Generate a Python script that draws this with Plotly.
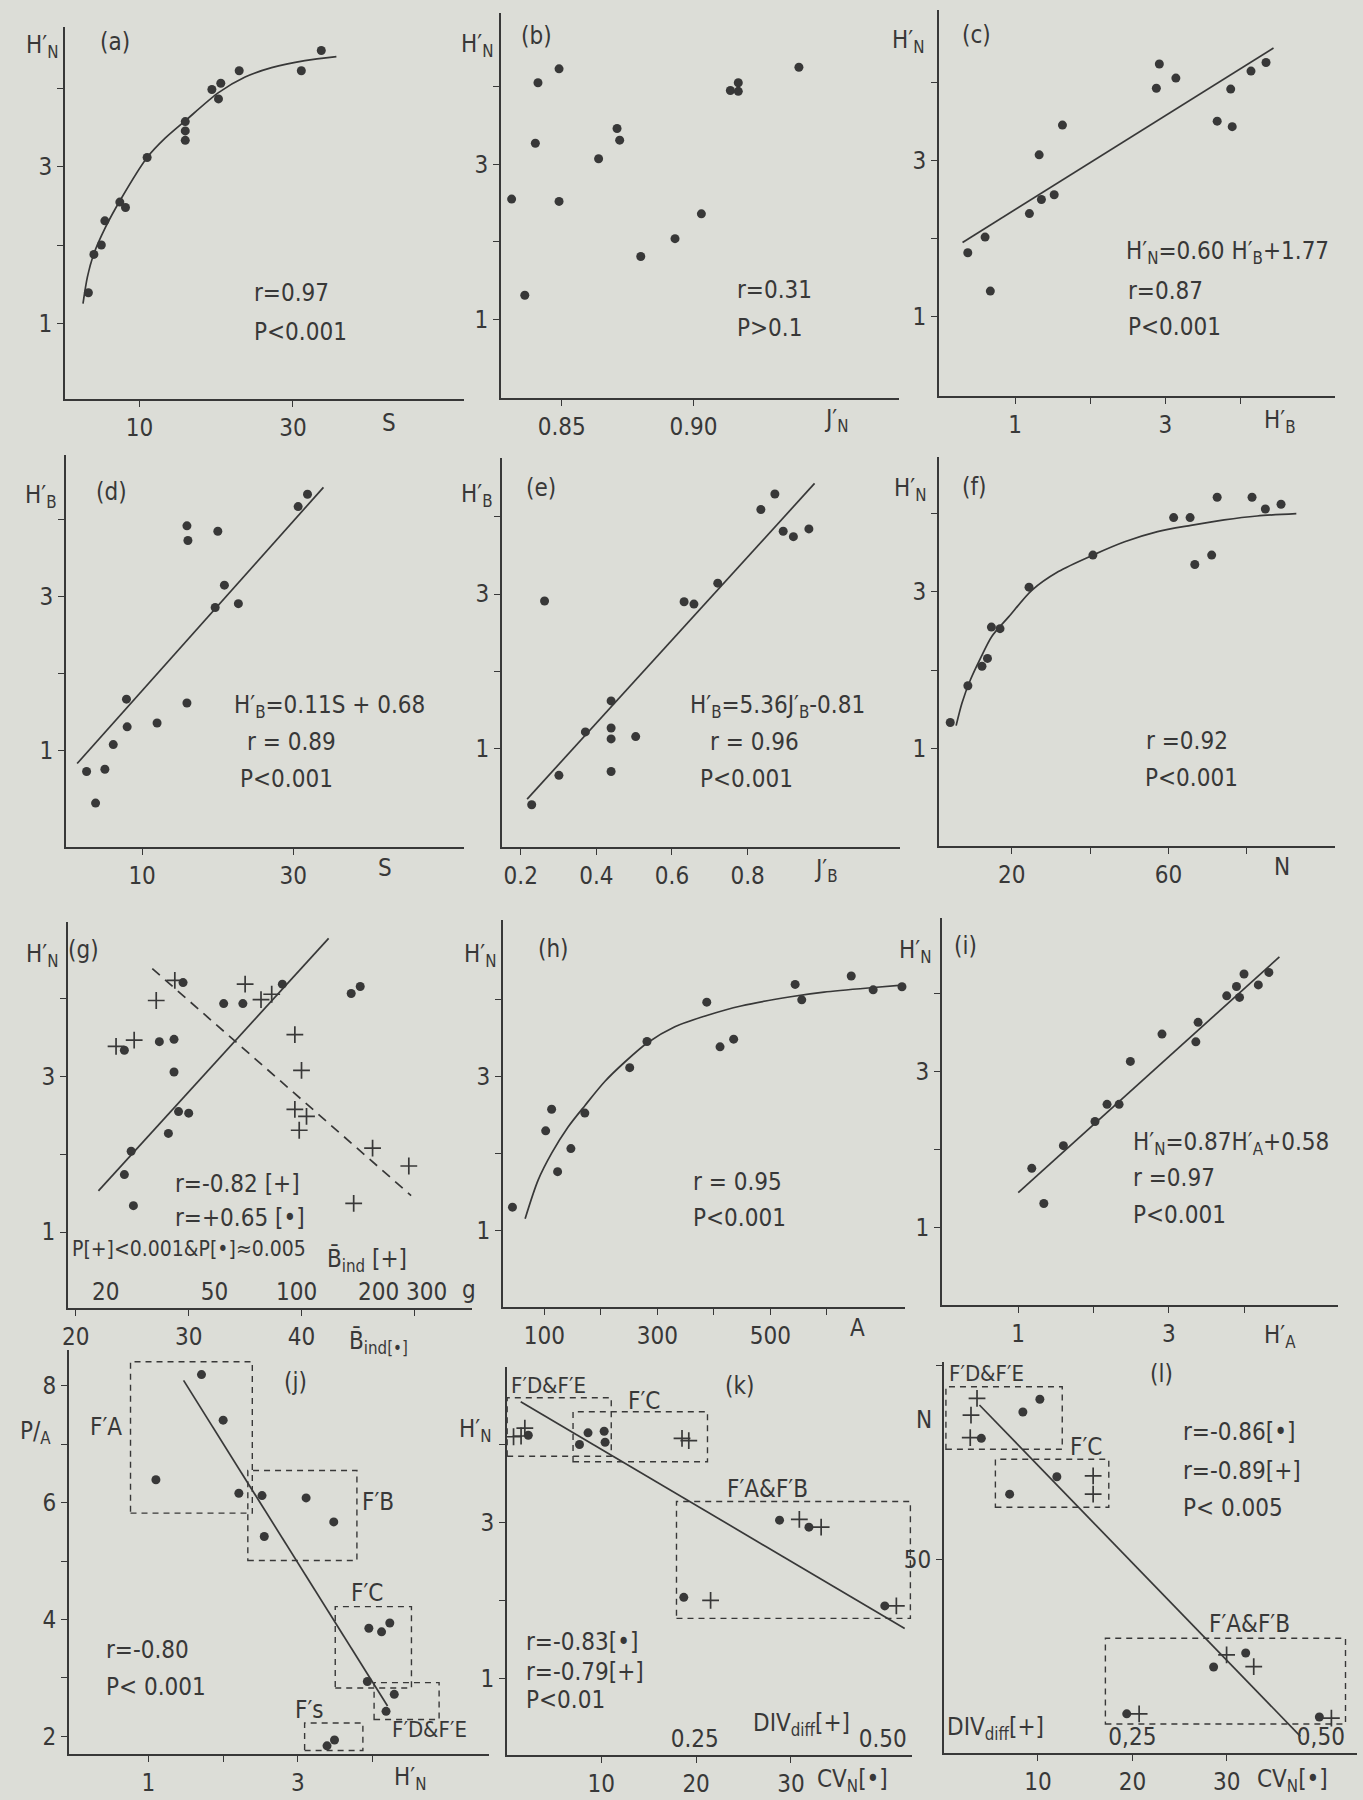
import plotly.graph_objects as go

# ---------------- data ----------------
# (a) H'N against species number S
a_S = [3.34, 4.06, 5.03, 5.49, 7.44, 8.18, 11.0, 15.97, 15.97, 15.97, 19.44, 20.6, 20.3, 23.0, 31.1, 33.7]
a_H = [1.39, 1.88, 2.00, 2.31, 2.55, 2.48, 3.12, 3.58, 3.46, 3.34, 3.99, 4.07, 3.87, 4.23, 4.23, 4.49]
a_curve_S = [2.64, 3.21, 4.06, 5.58, 7.53, 11.0, 13.38, 15.97, 20.3, 23.77, 27.23, 31.56, 35.67]
a_curve_H = [1.25, 1.59, 1.89, 2.23, 2.58, 3.12, 3.37, 3.59, 3.95, 4.15, 4.27, 4.36, 4.41]

# (b) H'N against evenness J'N
b_J = [0.831, 0.836, 0.841, 0.840, 0.849, 0.849, 0.864, 0.871, 0.872, 0.880, 0.893, 0.903, 0.914, 0.917, 0.917, 0.940]
b_H = [2.55, 1.31, 4.05, 3.27, 4.23, 2.52, 3.07, 3.46, 3.31, 1.81, 2.04, 2.36, 3.95, 4.05, 3.94, 4.25]

# (c) H'N against H'B
c_HB = [0.37, 0.60, 0.67, 1.19, 1.35, 1.52, 1.32, 1.63, 2.88, 2.92, 3.14, 3.69, 3.89, 3.87, 4.14, 4.34]
c_HN = [1.82, 2.02, 1.33, 2.32, 2.50, 2.56, 3.07, 3.45, 3.92, 4.23, 4.05, 3.50, 3.43, 3.91, 4.14, 4.25]
c_slope, c_icpt = 0.60, 1.77
c_fit_x = [0.30, 4.44]

# (d) H'B against S
d_S = [2.65, 3.84, 5.07, 6.18, 7.93, 8.02, 11.98, 15.93, 15.93, 16.06, 20.02, 20.89, 19.67, 22.74, 30.65, 31.89]
d_HB = [0.73, 0.32, 0.76, 1.08, 1.67, 1.31, 1.36, 1.62, 3.92, 3.73, 3.85, 3.15, 2.86, 2.91, 4.17, 4.33]
d_slope, d_icpt = 0.11, 0.68
d_fit_x = [1.4, 34.0]

# (e) H'B against J'B
e_J = [0.229, 0.301, 0.263, 0.371, 0.439, 0.439, 0.439, 0.439, 0.504, 0.632, 0.658, 0.721, 0.835, 0.872, 0.894, 0.921, 0.962]
e_HB = [0.28, 0.66, 2.91, 1.22, 1.62, 1.27, 1.13, 0.71, 1.16, 2.90, 2.87, 3.14, 4.09, 4.29, 3.81, 3.74, 3.84]
e_slope, e_icpt = 5.36, -0.81
e_fit_x = [0.217, 0.977]

# (f) H'N against number of individuals N
f_N = [4.3, 8.8, 12.4, 13.8, 14.8, 17.0, 24.4, 40.7, 61.3, 65.5, 66.7, 71.0, 72.4, 81.3, 84.7, 88.7]
f_H = [1.33, 1.80, 2.05, 2.15, 2.55, 2.53, 3.06, 3.47, 3.95, 3.95, 3.35, 3.47, 4.21, 4.21, 4.06, 4.12]
f_curve_N = [5.8, 7.3, 9.4, 12.0, 14.9, 19.2, 25.1, 31.9, 40.7, 48.8, 57.2, 65.7, 74.2, 82.6, 92.6]
f_curve_H = [1.29, 1.58, 1.87, 2.15, 2.43, 2.68, 3.02, 3.26, 3.47, 3.64, 3.77, 3.85, 3.92, 3.97, 4.00]

# (g) H'N against mean individual biomass
g_dot_B = [24.3, 24.9, 24.3, 25.1, 27.4, 28.7, 28.7, 29.5, 28.2, 29.1, 30.0, 33.1, 34.8, 38.3, 44.4, 45.2]
g_dot_H = [3.34, 2.04, 1.74, 1.34, 3.45, 3.48, 3.06, 4.21, 2.27, 2.55, 2.53, 3.94, 3.94, 4.19, 4.07, 4.16]
g_plus_B = [21.8, 25.4, 30.6, 35.8, 64.8, 74.1, 81.1, 98.6, 104.3, 98.6, 108.8, 102.3, 190.0, 258.0, 162.0]
g_plus_H = [3.39, 3.47, 3.98, 4.24, 4.19, 3.99, 4.06, 3.54, 3.08, 2.58, 2.49, 2.31, 2.08, 1.85, 1.37]
g_dot_fit_B = [22.0, 42.4]
g_dot_fit_H = [1.53, 4.78]
g_plus_fit_B = [29.6, 263.0]
g_plus_fit_H = [4.39, 1.47]

# (h) H'N against sampled area A
h_A = [43.6, 102.4, 112.9, 123.5, 147.0, 171.7, 251.1, 281.7, 387.5, 411.0, 435.1, 543.9, 555.6, 643.2, 682.0, 733.0]
h_H = [1.30, 2.29, 2.57, 1.76, 2.06, 2.52, 3.11, 3.45, 3.96, 3.38, 3.48, 4.19, 3.99, 4.30, 4.12, 4.16]
h_curve_A = [66, 89, 113, 142, 172, 207, 242, 282, 331, 389, 448, 536, 595, 683, 733]
h_curve_H = [1.15, 1.65, 2.00, 2.34, 2.62, 2.93, 3.18, 3.43, 3.64, 3.79, 3.91, 4.03, 4.09, 4.15, 4.18]

# (i) H'N against H'A
i_HA = [1.18, 1.34, 1.60, 2.02, 2.18, 2.34, 2.49, 2.91, 3.36, 3.39, 3.77, 3.90, 3.94, 4.00, 4.19, 4.33]
i_HN = [1.76, 1.31, 2.05, 2.36, 2.58, 2.58, 3.13, 3.48, 3.38, 3.63, 3.97, 4.09, 3.95, 4.25, 4.11, 4.27]
i_slope, i_icpt = 0.87, 0.58
i_fit_x = [1.0, 4.47]

# (j) P/A against H'N, grouped by site
j_HN = [1.71, 2.00, 1.10, 2.21, 2.52, 2.55, 3.11, 3.48, 3.95, 4.12, 4.23, 3.93, 4.29, 4.18, 3.39, 3.49]
j_PA = [8.19, 7.41, 6.39, 6.16, 6.12, 5.42, 6.08, 5.67, 3.85, 3.79, 3.94, 2.94, 2.72, 2.43, 1.84, 1.94]
j_fit_HN = [1.47, 4.20]
j_fit_PA = [8.09, 2.52]
j_groups = [(0.76, 2.39, 5.82, 8.41), (2.33, 3.79, 5.01, 6.55), (3.50, 4.52, 2.83, 4.22),
            (4.02, 4.89, 2.29, 2.92), (3.09, 3.87, 1.76, 2.23)]

# (k) H'N against CV_N [dots] and DIV_diff [plus]
k_dot_CV = [2.3, 7.7, 8.6, 10.3, 10.4, 18.7, 28.8, 31.9, 39.9]
k_dot_H = [4.12, 4.00, 4.15, 4.17, 4.03, 2.04, 3.03, 2.94, 1.93]
k_plus_D = [0.009, 0.019, 0.024, 0.233, 0.242, 0.271, 0.389, 0.418, 0.518]
k_plus_H = [4.10, 4.11, 4.21, 4.08, 4.05, 2.00, 3.04, 2.94, 1.93]
k_fit_CV = [1.5, 42.0]
k_fit_H = [4.55, 1.64]
k_groups = [(0.07, 11.05, 3.85, 4.60), (7.02, 21.2, 3.78, 4.42), (17.93, 42.6, 1.77, 3.27)]

# (l) N against CV_N [dots] and DIV_diff [plus]
l_dot_CV = [10.2, 8.4, 4.0, 12.0, 7.0, 28.6, 32.0, 19.4, 39.8]
l_dot_N = [91.3, 88.0, 81.2, 71.3, 66.8, 22.2, 25.8, 10.1, 9.3]
l_plus_D = [0.044, 0.036, 0.035, 0.198, 0.198, 0.375, 0.411, 0.259, 0.514]
l_plus_N = [91.5, 87.2, 81.4, 71.5, 66.8, 25.3, 22.3, 10.1, 9.0]
l_fit_CV = [3.8, 37.8]
l_fit_N = [89.8, 4.3]
l_groups = [(0.25, 12.57, 78.4, 94.5), (5.49, 17.5, 63.4, 75.8), (17.14, 42.57, 7.5, 29.6)]

# ---------------- styling ----------------
W, H = 1363, 1800
INK = "#383838"
BG = "#dcddd7"
FONT = "Liberation Sans Narrow, DejaVu Sans Condensed, Liberation Sans, sans-serif"
FS = 24


def fx(x):
    return x / W


def fy(y):
    return 1 - y / H


fig = go.Figure()
layout = {}
annotations = []
shapes = []

AXIS_STYLE = dict(showline=True, linecolor=INK, linewidth=1.6, ticks="outside", ticklen=6,
                  tickwidth=1.4, tickcolor=INK, showgrid=False, zeroline=False,
                  tickfont=dict(size=FS, color=INK, family=FONT), fixedrange=True,
                  tickmode="array", tickangle=0)


def minor_ticks(vals):
    return dict(tickmode="array", tickvals=vals, ticks="outside", ticklen=6,
                tickwidth=1.4, tickcolor=INK, showgrid=False)


def refs(i):
    return ("x" if i == 1 else f"x{i}", "y" if i == 1 else f"y{i}")


def panel(i, box, xr, yr, xticks, yticks, xminor=(), yminor=(), xtype="linear"):
    x0, x1, y0, y1 = box
    xn = "xaxis" if i == 1 else f"xaxis{i}"
    yn = "yaxis" if i == 1 else f"yaxis{i}"
    xs, ys = refs(i)
    layout[xn] = dict(domain=[fx(x0), fx(x1)], range=xr, type=xtype, anchor=ys,
                      tickvals=xticks, ticktext=[str(v) for v in xticks],
                      minor=minor_ticks(list(xminor)), **AXIS_STYLE)
    layout[yn] = dict(domain=[fy(y1), fy(y0)], range=yr, anchor=xs,
                      tickvals=yticks, ticktext=[str(v) for v in yticks],
                      minor=minor_ticks(list(yminor)), **AXIS_STYLE)


def overlay_axis(n, base, xr, vals, texts, xtype="linear"):
    layout[f"xaxis{n}"] = dict(overlaying=f"x{base}", anchor=f"y{base}", side="bottom", range=xr,
                               type=xtype, tickmode="array", tickvals=vals, ticktext=texts,
                               ticks="", tickangle=0, ticklabelposition="inside",
                               showline=False, showgrid=False, zeroline=False, fixedrange=True,
                               tickfont=dict(size=FS, color=INK, family=FONT))


def dots(xref, yref, xs, ys, size=9):
    fig.add_trace(go.Scatter(x=xs, y=ys, xaxis=xref, yaxis=yref, mode="markers",
                             marker=dict(size=size, color=INK, symbol="circle"),
                             cliponaxis=False, showlegend=False, hoverinfo="skip"))


def crosses(xref, yref, xs, ys):
    fig.add_trace(go.Scatter(x=xs, y=ys, xaxis=xref, yaxis=yref, mode="markers",
                             marker=dict(size=12, symbol="cross-thin", line=dict(color=INK, width=1.7)),
                             cliponaxis=False, showlegend=False, hoverinfo="skip"))


def line(xref, yref, xs, ys, dash="solid", smooth=False):
    fig.add_trace(go.Scatter(x=xs, y=ys, xaxis=xref, yaxis=yref, mode="lines",
                             line=dict(color=INK, width=1.7, dash=dash,
                                       shape="spline" if smooth else "linear", smoothing=0.8),
                             cliponaxis=False, showlegend=False, hoverinfo="skip"))


def group_boxes(xref, yref, rects):
    for x0, x1, y0, y1 in rects:
        shapes.append(dict(type="rect", xref=xref, yref=yref, x0=x0, x1=x1, y0=y0, y1=y1,
                           line=dict(color=INK, width=1.4, dash="6px,5px"),
                           fillcolor="rgba(0,0,0,0)", layer="below"))


def label(x, y, text, size=FS, anchor="left"):
    annotations.append(dict(x=fx(x), y=fy(y), xref="paper", yref="paper", text=text,
                            showarrow=False, xanchor=anchor, yanchor="middle",
                            font=dict(size=size, color=INK, family=FONT)))


HN = "H\u2032<sub>N</sub>"
HB = "H\u2032<sub>B</sub>"
HA = "H\u2032<sub>A</sub>"
JN = "J\u2032<sub>N</sub>"
JB = "J\u2032<sub>B</sub>"
BBAR = "B\u0304"

# ---------------- panels ----------------
# (a)
panel(1, (59, 460, 27, 399), [0.26, 52.3], [0.03, 4.79], [10, 30], [1, 3], yminor=[2, 4])
x, y = refs(1)
line(x, y, a_curve_S, a_curve_H, smooth=True)
dots(x, y, a_S, a_H)
label(18, 47, HN); label(92, 42, "(a)")
label(247, 293, "r=0.97"); label(247, 332, "P<0.001"); label(376, 423, "S")

# (b)
layout_b_ticks = [0.85, 0.90]
panel(2, (497, 897, 13, 398), [0.8269, 0.978], [-0.015, 4.95], layout_b_ticks, [1, 3], yminor=[2, 4])
layout["xaxis2"]["ticktext"] = ["0.85", "0.90"]
x, y = refs(2)
dots(x, y, b_J, b_H)
label(455, 45, HN); label(515, 36, "(b)")
label(732, 290, "r=0.31"); label(732, 328, "P>0.1"); label(820, 420, JN)

# (c)
panel(3, (937, 1335, 10, 396), [-0.015, 5.26], [-0.01, 4.92], [1, 3], [1, 3], xminor=[2, 4], yminor=[2, 4])
x, y = refs(3)
line(x, y, c_fit_x, [c_slope * v + c_icpt for v in c_fit_x])
dots(x, y, c_HB, c_HN)
label(888, 42, HN); label(958, 35, "(c)")
label(1123, 253, HN + "=0.60 " + HB + "+1.77"); label(1125, 291, "r=0.87"); label(1125, 327, "P<0.001")
label(1262, 421, HB)

# (d)
panel(4, (60, 460, 455, 847), [-0.11, 52.6], [-0.25, 4.84], [10, 30], [1, 3], yminor=[2, 4])
x, y = refs(4)
line(x, y, d_fit_x, [d_slope * v + d_icpt for v in d_fit_x])
dots(x, y, d_S, d_HB)
label(17, 497, HB); label(88, 492, "(d)")
label(227, 706, HB + "=0.11S + 0.68"); label(240, 742, "r = 0.89"); label(233, 779, "P<0.001")
label(372, 868, "S")

# (e)
panel(5, (498, 898, 458, 847), [0.15, 1.203], [-0.265, 4.755], [0.2, 0.4, 0.6, 0.8], [1, 3], yminor=[2, 4])
x, y = refs(5)
line(x, y, e_fit_x, [e_slope * v + e_icpt for v in e_fit_x])
dots(x, y, e_J, e_HB)
label(455, 495, HB); label(520, 488, "(e)")
label(685, 706, HB + "=5.36" + JB + "-0.81"); label(705, 742, "r = 0.96"); label(695, 779, "P<0.001")
label(810, 870, JB)

# (f)
panel(6, (937, 1335, 457, 846), [1.4, 102.5], [-0.248, 4.724], [20, 60], [1, 3], xminor=[40, 80], yminor=[2, 4])
x, y = refs(6)
line(x, y, f_curve_N, f_curve_H, smooth=True)
dots(x, y, f_N, f_H)
label(890, 490, HN); label(958, 487, "(f)")
label(1143, 741, "r =0.92"); label(1142, 778, "P<0.001"); label(1272, 867, "N")

# (g): dots on linear mean biomass axis, crosses on logarithmic axis
panel(7, (62, 468, 922, 1308), [19.28, 55.1], [0.023, 4.99], [20, 30, 40], [1, 3], xminor=[50], yminor=[2, 4])
overlay_axis(13, 7, [1.1613, 2.643], [20, 50, 100, 200, 300], ["20", "50", "100", "200", "300"], xtype="log")
x, y = refs(7)
line(x, y, g_dot_fit_B, g_dot_fit_H)
line("x13", y, g_plus_fit_B, g_plus_fit_H, dash="10px,7px")
dots(x, y, g_dot_B, g_dot_H)
crosses("x13", y, g_plus_B, g_plus_H)
label(18, 955, HN); label(60, 950, "(g)")
label(168, 1184, "r=-0.82 [+]"); label(168, 1218, "r=+0.65 [\u2022]")
label(64, 1249, "P[+]<0.001&P[\u2022]\u22480.005", size=21)
label(320, 1260, BBAR + "<sub>ind</sub> [+]"); label(456, 1290, "g")
label(343, 1342, BBAR + "<sub>ind[\u2022]</sub>")

# (h)
panel(8, (499, 903, 920, 1307), [26.5, 738.4], [0.004, 5.026], [100, 300, 500], [1, 3],
      xminor=[200, 400, 600], yminor=[2, 4])
x, y = refs(8)
line(x, y, h_curve_A, h_curve_H, smooth=True)
dots(x, y, h_A, h_H)
label(458, 955, HN); label(532, 949, "(h)")
label(688, 1182, "r = 0.95"); label(688, 1218, "P<0.001"); label(846, 1328, "A")

# (i)
panel(9, (940, 1338, 918, 1305), [-0.0146, 5.25], [0.009, 4.967], [1, 3], [1, 3], xminor=[2, 4], yminor=[2, 4])
x, y = refs(9)
line(x, y, i_fit_x, [i_slope * v + i_icpt for v in i_fit_x])
dots(x, y, i_HA, i_HN)
label(895, 952, HN); label(950, 946, "(i)")
label(1130, 1143, HN + "=0.87" + HA + "+0.58"); label(1130, 1178, "r =0.97"); label(1130, 1215, "P<0.001")
label(1262, 1336, HA)

# (j)
panel(10, (63, 485, 1350, 1754), [-0.067, 5.556], [1.70, 8.61], [1, 3], [2, 4, 6, 8],
      xminor=[2, 4], yminor=[3, 5, 7])
x, y = refs(10)
group_boxes(x, y, j_groups)
line(x, y, j_fit_HN, j_fit_PA)
dots(x, y, j_HN, j_PA)
label(12, 1432, "P/<sub>A</sub>"); label(277, 1382, "(j)")
label(82, 1427, "F\u2032A"); label(356, 1502, "F\u2032B"); label(345, 1593, "F\u2032C")
label(288, 1710, "F\u2032s"); label(386, 1729, "F\u2032D&F\u2032E", size=22)
label(98, 1650, "r=-0.80"); label(98, 1687, "P< 0.001"); label(388, 1778, HN)

# (k)
panel(11, (503, 910, 1367, 1755), [0.031, 42.77], [0.017, 4.995], [10, 20, 30], [1, 3], yminor=[2, 4])
overlay_axis(14, 11, [0.0, 0.5388], [0.25, 0.50], ["0.25", "0.50"])
x, y = refs(11)
group_boxes(x, y, k_groups)
line(x, y, k_fit_CV, k_fit_H)
dots(x, y, k_dot_CV, k_dot_H)
crosses("x14", y, k_plus_D, k_plus_H)
label(453, 1430, HN); label(505, 1385, "F\u2032D&F\u2032E", size=22); label(720, 1386, "(k)")
label(623, 1401, "F\u2032C"); label(722, 1489, "F\u2032A&F\u2032B")
label(520, 1642, "r=-0.83[\u2022]"); label(520, 1672, "r=-0.79[+]"); label(520, 1700, "P<0.01")
label(748, 1724, "DIV<sub>diff</sub>[+]"); label(813, 1780, "CV<sub>N</sub>[\u2022]")

# (l)
panel(12, (942, 1357, 1362, 1753), [0.032, 43.79], [0, 100.9], [10, 20, 30], [50], yminor=[100])
overlay_axis(15, 12, [0.0, 0.548], [0.25, 0.50], ["0,25", "0,50"])
x, y = refs(12)
group_boxes(x, y, l_groups)
line(x, y, l_fit_CV, l_fit_N)
dots(x, y, l_dot_CV, l_dot_N)
crosses("x15", y, l_plus_D, l_plus_N)
label(912, 1420, "N"); label(945, 1373, "F\u2032D&F\u2032E", size=22); label(1147, 1374, "(l)")
label(1067, 1447, "F\u2032C"); label(1206, 1624, "F\u2032A&F\u2032B")
label(1180, 1432, "r=-0.86[\u2022]"); label(1180, 1471, "r=-0.89[+]"); label(1180, 1508, "P< 0.005")
label(943, 1728, "DIV<sub>diff</sub>[+]"); label(1255, 1780, "CV<sub>N</sub>[\u2022]")

fig.update_layout(
    width=W, height=H, margin=dict(l=0, r=0, t=0, b=0),
    paper_bgcolor=BG, plot_bgcolor="rgba(0,0,0,0)",
    font=dict(family=FONT, size=FS, color=INK),
    showlegend=False, annotations=annotations, shapes=shapes,
    **layout,
)

fig.write_html("out.html")
